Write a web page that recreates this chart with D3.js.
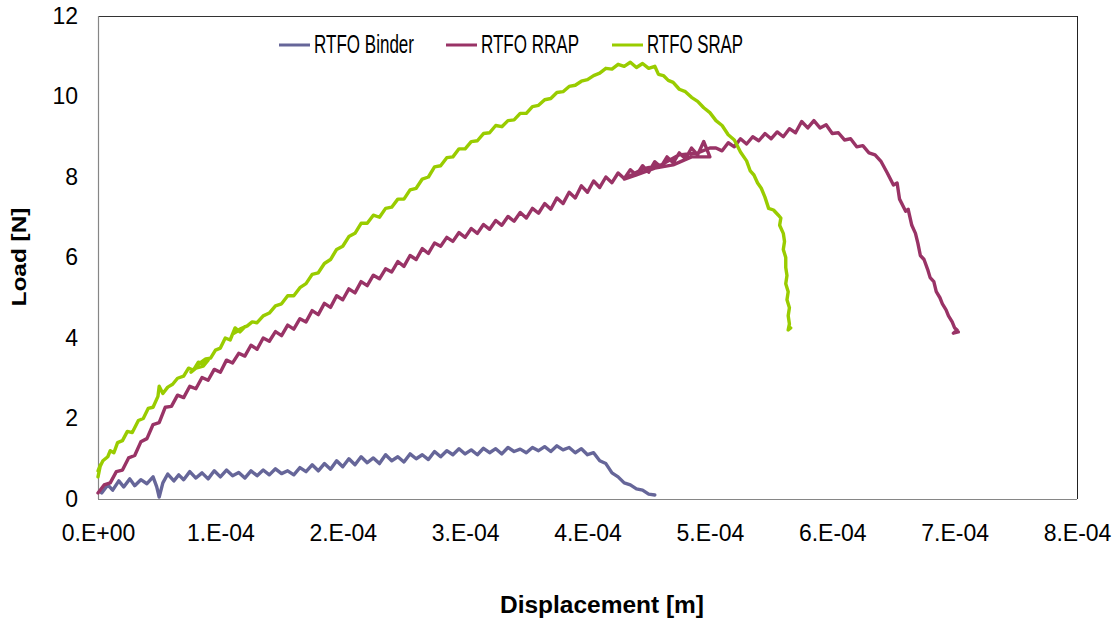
<!DOCTYPE html>
<html>
<head>
<meta charset="utf-8">
<script src="https://cdn.jsdelivr.net/npm/d3@7"></script>
<style>
  body { margin: 0; background: #fff; }
  text { font-family: "Liberation Sans", Arial, sans-serif; fill: #000; }
</style>
</head>
<body>
<svg id="chart"></svg>
<script>
// displacement in units of 1e-4 m, load in N
const binderDisp = [0.03,0.08,0.12,0.17,0.21,0.26,0.30,0.35,0.40,0.45,0.48,0.50,0.53,0.57,0.62,0.66,0.70,0.75,0.80,0.85,0.90,0.95,1.00,1.05,1.10,1.15,1.20,1.25,1.30,1.35,1.40,1.45,1.50,1.55,1.60,1.65,1.70,1.75,1.80,1.85,1.90,1.95,2.00,2.05,2.10,2.15,2.20,2.25,2.30,2.35,2.40,2.45,2.50,2.55,2.60,2.65,2.70,2.75,2.80,2.85,2.90,2.95,3.00,3.05,3.10,3.15,3.20,3.25,3.30,3.35,3.40,3.45,3.50,3.55,3.60,3.65,3.70,3.75,3.80,3.85,3.90,3.95,4.00,4.05,4.10,4.15,4.20,4.25,4.30,4.35,4.40,4.45,4.50,4.55];
const binderLoad = [0.15,0.35,0.22,0.45,0.30,0.50,0.33,0.48,0.38,0.55,0.30,0.05,0.40,0.62,0.45,0.60,0.48,0.68,0.52,0.65,0.50,0.70,0.55,0.72,0.58,0.66,0.52,0.70,0.58,0.72,0.60,0.75,0.63,0.70,0.60,0.78,0.68,0.85,0.70,0.88,0.74,0.95,0.80,1.00,0.85,1.05,0.90,1.02,0.88,1.10,0.95,1.05,0.92,1.12,1.00,1.10,0.98,1.18,1.05,1.20,1.10,1.25,1.12,1.22,1.10,1.26,1.15,1.25,1.12,1.28,1.18,1.24,1.15,1.28,1.20,1.30,1.18,1.32,1.22,1.28,1.15,1.25,1.10,1.15,0.95,0.88,0.65,0.55,0.40,0.35,0.25,0.22,0.12,0.10];

const rrapDisp = [0.00,0.05,0.10,0.15,0.20,0.25,0.30,0.35,0.40,0.45,0.50,0.55,0.60,0.65,0.70,0.75,0.80,0.85,0.90,0.95,1.00,1.05,1.10,1.15,1.20,1.25,1.30,1.35,1.40,1.45,1.50,1.55,1.60,1.65,1.70,1.75,1.80,1.85,1.90,1.95,2.00,2.05,2.10,2.15,2.20,2.25,2.30,2.35,2.40,2.45,2.50,2.55,2.60,2.65,2.70,2.75,2.80,2.85,2.90,2.95,3.00,3.05,3.10,3.15,3.20,3.25,3.30,3.35,3.40,3.45,3.50,3.55,3.60,3.65,3.70,3.75,3.80,3.85,3.90,3.95,4.00,4.05,4.10,4.15,4.20,4.25,4.30,4.35,4.40,4.45,4.50,4.55,4.60,4.65,4.70,4.75,4.80,4.85,4.90,4.95,5.00,4.85,4.70,4.55,4.40,4.30,4.45,4.60,4.75,4.90,5.00,5.05,5.10,5.15,5.20,5.25,5.30,5.35,5.40,5.45,5.50,5.55,5.60,5.65,5.70,5.75,5.80,5.85,5.90,5.95,6.00,6.05,6.10,6.15,6.20,6.25,6.30,6.35,6.40,6.45,6.50,6.53,6.55,6.60,6.62,6.65,6.68,6.70,6.72,6.75,6.78,6.80,6.83,6.85,6.88,6.90,6.93,6.95,6.98,7.00,7.02,6.99,7.03];
const rrapLoad = [0.15,0.35,0.40,0.68,0.72,1.02,1.08,1.42,1.50,1.85,1.90,2.28,2.30,2.58,2.52,2.80,2.74,3.02,2.95,3.22,3.15,3.45,3.38,3.62,3.55,3.82,3.72,4.00,3.92,4.16,4.06,4.32,4.22,4.48,4.40,4.68,4.58,4.86,4.76,5.05,4.95,5.22,5.12,5.40,5.30,5.56,5.47,5.72,5.64,5.90,5.78,6.05,5.95,6.22,6.10,6.36,6.28,6.50,6.40,6.62,6.50,6.72,6.60,6.82,6.70,6.92,6.80,7.02,6.90,7.12,6.98,7.22,7.10,7.34,7.20,7.48,7.34,7.62,7.48,7.78,7.62,7.90,7.74,8.00,7.86,8.10,7.96,8.18,8.05,8.28,8.12,8.38,8.25,8.50,8.35,8.60,8.45,8.72,8.55,8.88,8.50,8.50,8.30,8.22,8.05,7.95,8.20,8.30,8.55,8.60,8.72,8.72,8.65,8.85,8.75,8.95,8.82,9.00,8.90,9.08,8.95,9.12,9.00,9.20,9.10,9.38,9.22,9.40,9.22,9.30,9.08,9.10,8.92,8.95,8.75,8.78,8.60,8.55,8.38,8.10,7.80,7.85,7.45,7.15,7.20,6.80,6.60,6.35,6.05,5.95,5.70,5.50,5.40,5.15,5.00,4.85,4.70,4.55,4.40,4.25,4.20,4.12,4.15];

const srapDisp = [0.00,0.02,0.00,0.04,0.08,0.10,0.13,0.16,0.20,0.24,0.28,0.33,0.37,0.41,0.45,0.49,0.50,0.53,0.57,0.61,0.65,0.70,0.74,0.78,0.82,0.86,0.90,0.86,0.80,0.76,0.82,0.88,0.92,0.96,1.00,1.04,1.08,1.12,1.16,1.20,1.10,1.16,1.22,1.26,1.30,1.35,1.40,1.45,1.50,1.55,1.60,1.65,1.70,1.75,1.80,1.85,1.90,1.95,2.00,2.05,2.10,2.15,2.20,2.25,2.30,2.35,2.40,2.45,2.50,2.55,2.60,2.65,2.70,2.75,2.80,2.85,2.90,2.95,3.00,3.05,3.10,3.15,3.20,3.25,3.30,3.35,3.40,3.45,3.50,3.55,3.60,3.65,3.70,3.75,3.80,3.85,3.90,3.95,4.00,4.05,4.10,4.15,4.20,4.25,4.30,4.35,4.40,4.45,4.50,4.55,4.58,4.62,4.66,4.70,4.75,4.80,4.85,4.90,4.95,5.00,5.05,5.10,5.15,5.20,5.25,5.30,5.33,5.36,5.39,5.42,5.45,5.48,5.52,5.56,5.58,5.57,5.60,5.61,5.60,5.62,5.62,5.63,5.62,5.64,5.63,5.65,5.64,5.65,5.64,5.66];
const srapLoad = [0.55,0.85,0.70,0.95,1.05,1.20,1.15,1.40,1.45,1.68,1.65,1.95,2.00,2.25,2.28,2.55,2.80,2.62,2.78,2.85,3.00,3.05,3.25,3.20,3.40,3.35,3.45,3.30,3.25,3.15,3.35,3.48,3.50,3.70,3.75,4.00,3.95,4.25,4.15,4.28,4.10,4.22,4.30,4.40,4.38,4.55,4.62,4.80,4.85,5.05,5.05,5.25,5.35,5.58,5.62,5.85,5.95,6.20,6.28,6.52,6.60,6.85,6.85,7.05,7.00,7.22,7.25,7.45,7.45,7.68,7.72,7.95,8.00,8.25,8.28,8.48,8.50,8.70,8.70,8.88,8.90,9.08,9.10,9.28,9.25,9.40,9.42,9.58,9.58,9.75,9.78,9.92,9.95,10.10,10.12,10.25,10.28,10.38,10.42,10.52,10.58,10.70,10.68,10.80,10.75,10.85,10.72,10.82,10.70,10.75,10.55,10.52,10.40,10.35,10.18,10.12,9.98,9.88,9.72,9.60,9.40,9.28,9.05,8.92,8.62,8.40,8.15,8.05,7.85,7.72,7.50,7.22,7.18,7.05,6.98,6.80,6.60,6.40,6.20,6.00,5.75,5.55,5.35,5.15,4.95,4.75,4.55,4.35,4.20,4.25];

const seriesNames = ["RTFO Binder", "RTFO RRAP", "RTFO SRAP"];
const seriesColors = ["#666699", "#993366", "#99cc00"];
const xTicks = [0, 1e-4, 2e-4, 3e-4, 4e-4, 5e-4, 6e-4, 7e-4, 8e-4];
const xTickLabels = ["0.E+00", "1.E-04", "2.E-04", "3.E-04", "4.E-04", "5.E-04", "6.E-04", "7.E-04", "8.E-04"];
const yTicks = [0, 2, 4, 6, 8, 10, 12];

const width = 1117, height = 622;
const plot = { left: 98, right: 1077, top: 16, bottom: 499 };

const svg = d3.select("#chart").attr("width", width).attr("height", height);
svg.append("rect").attr("width", width).attr("height", height).attr("fill", "#fff");

const x = d3.scaleLinear().domain([0, 8e-4]).range([plot.left, plot.right]);
const y = d3.scaleLinear().domain([0, 12]).range([plot.bottom, plot.top]);

// plot frame
svg.append("line").attr("x1", plot.left).attr("x2", plot.right).attr("y1", plot.top + 0.5).attr("y2", plot.top + 0.5)
  .attr("stroke", "#333").attr("stroke-width", 1);
svg.append("line").attr("x1", plot.right + 0.5).attr("x2", plot.right + 0.5).attr("y1", plot.top).attr("y2", plot.bottom)
  .attr("stroke", "#222").attr("stroke-width", 1);
svg.append("line").attr("x1", plot.left + 0.5).attr("x2", plot.left + 0.5).attr("y1", plot.top).attr("y2", plot.bottom)
  .attr("stroke", "#868686").attr("stroke-width", 1.2);
svg.append("line").attr("x1", plot.left).attr("x2", plot.right).attr("y1", plot.bottom + 0.5).attr("y2", plot.bottom + 0.5)
  .attr("stroke", "#868686").attr("stroke-width", 1.2);

// axes (labels only, no tick marks)
const xAxis = svg.append("g")
  .attr("transform", `translate(0,${plot.bottom})`)
  .call(d3.axisBottom(x).tickValues(xTicks).tickSize(0).tickPadding(26)
    .tickFormat((d, i) => xTickLabels[i]));
xAxis.select(".domain").remove();
xAxis.selectAll("text").attr("font-size", 23).attr("font-family", "Liberation Sans, Arial, sans-serif");

const yAxis = svg.append("g")
  .attr("transform", `translate(${plot.left},0)`)
  .call(d3.axisLeft(y).tickValues(yTicks).tickSize(0).tickPadding(20).tickFormat(d3.format("d")));
yAxis.select(".domain").remove();
yAxis.selectAll("text").attr("font-size", 23).attr("font-family", "Liberation Sans, Arial, sans-serif");

// axis titles
svg.append("text")
  .attr("x", 602).attr("y", 613)
  .attr("text-anchor", "middle")
  .attr("font-size", 23).attr("font-weight", "bold")
  .attr("textLength", 204).attr("lengthAdjust", "spacingAndGlyphs")
  .text("Displacement [m]");

svg.append("text")
  .attr("transform", "translate(26,257) rotate(-90)")
  .attr("text-anchor", "middle")
  .attr("font-size", 21).attr("font-weight", "bold")
  .attr("textLength", 99).attr("lengthAdjust", "spacingAndGlyphs")
  .text("Load [N]");

// curves
const line = d3.line()
  .x(d => x(d[0] * 1e-4))
  .y(d => y(d[1]));

const series = [
  d3.zip(binderDisp, binderLoad),
  d3.zip(rrapDisp, rrapLoad),
  d3.zip(srapDisp, srapLoad)
];

series.forEach((pts, i) => {
  svg.append("path")
    .datum(pts)
    .attr("fill", "none")
    .attr("stroke", seriesColors[i])
    .attr("stroke-width", 3.4)
    .attr("stroke-linejoin", "round")
    .attr("stroke-linecap", "round")
    .attr("d", line);
});

// legend
const legendItems = [
  { x: 279, textLen: 100 },
  { x: 446, textLen: 98 },
  { x: 612, textLen: 96 }
];
legendItems.forEach((item, i) => {
  svg.append("line")
    .attr("x1", item.x).attr("x2", item.x + 31)
    .attr("y1", 45).attr("y2", 45)
    .attr("stroke", seriesColors[i]).attr("stroke-width", 3);
  svg.append("text")
    .attr("x", item.x + 35).attr("y", 53)
    .attr("font-size", 25)
    .attr("textLength", item.textLen).attr("lengthAdjust", "spacingAndGlyphs")
    .text(seriesNames[i]);
});
</script>
</body>
</html>
